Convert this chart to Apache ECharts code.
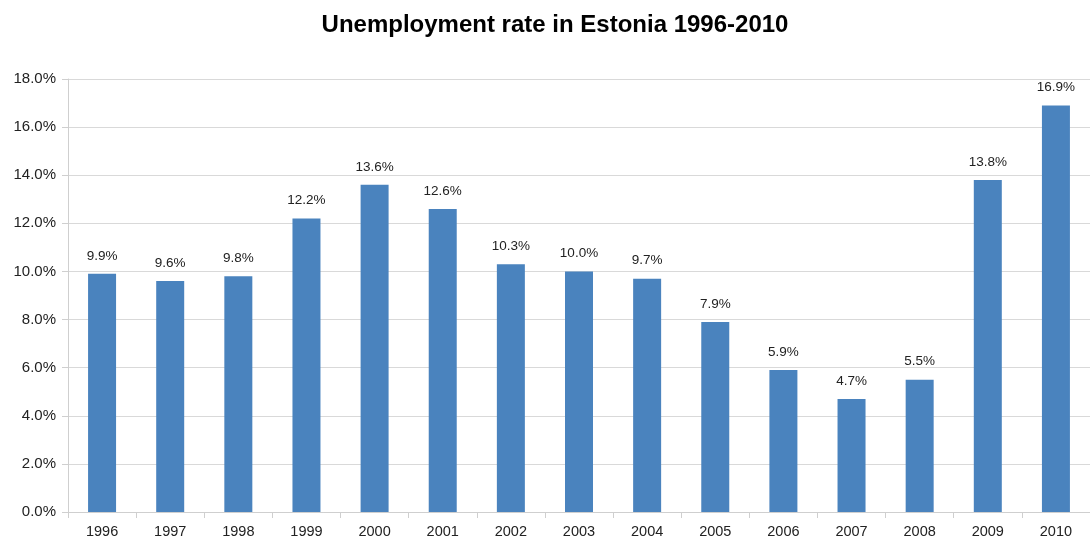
<!DOCTYPE html>
<html>
<head>
<meta charset="utf-8">
<script src="https://cdn.jsdelivr.net/npm/echarts@6/dist/echarts.min.js"></script>
<style>html,body{margin:0;padding:0;background:#fff}#c{width:1090px;height:544px}</style>
</head>
<body>
<div id="c"></div>
<script>
const titleText = 'Unemployment rate in Estonia 1996-2010';
const years = ['1996','1997','1998','1999','2000','2001','2002','2003','2004','2005','2006','2007','2008','2009','2010'];
const rates = [9.9, 9.6, 9.8, 12.2, 13.6, 12.6, 10.3, 10.0, 9.7, 7.9, 5.9, 4.7, 5.5, 13.8, 16.9];
const yTicks = [0, 2, 4, 6, 8, 10, 12, 14, 16, 18];

const chart = echarts.init(document.getElementById('c'), null, {renderer: 'canvas'});
chart.setOption({
  animation: false,
  backgroundColor: '#fff',
  textStyle: {fontFamily: 'Liberation Sans, Arial, sans-serif'},
  title: {
    text: titleText, left: 550, textAlign: 'center', top: 8,
    textStyle: {fontFamily: 'Liberation Sans', fontWeight: 'bold', fontSize: 24, color: '#000'}
  },
  grid: {left: 68, top: 79, width: 1026, height: 433, containLabel: false},
  xAxis: {
    type: 'category', data: years,
    axisLine: {lineStyle: {color: '#cfcfcf', width: 1}},
    axisTick: {show: true, length: 6, lineStyle: {color: '#cfcfcf'}},
    axisLabel: {color: '#222', fontSize: 14.5, margin: 12, fontFamily: 'Liberation Sans'}
  },
  yAxis: {
    type: 'value', min: 0, max: 18, interval: 2,
    axisLine: {show: true, lineStyle: {color: '#cfcfcf', width: 1}},
    axisTick: {show: true, length: 6, lineStyle: {color: '#cfcfcf'}},
    splitLine: {lineStyle: {color: '#d9d9d9', width: 1}},
    axisLabel: {color: '#222', fontSize: 15, margin: 12, fontFamily: 'Liberation Sans',
      formatter: v => v.toFixed(1) + '%'}
  },
  series: [{
    type: 'bar', data: rates, barWidth: 28,
    itemStyle: {color: '#4A83BE'},
    label: {show: true, position: 'top', distance: 11, color: '#222', fontSize: 13.5,
      fontFamily: 'Liberation Sans', formatter: p => p.value.toFixed(1) + '%'}
  }]
});
</script>
</body>
</html>
